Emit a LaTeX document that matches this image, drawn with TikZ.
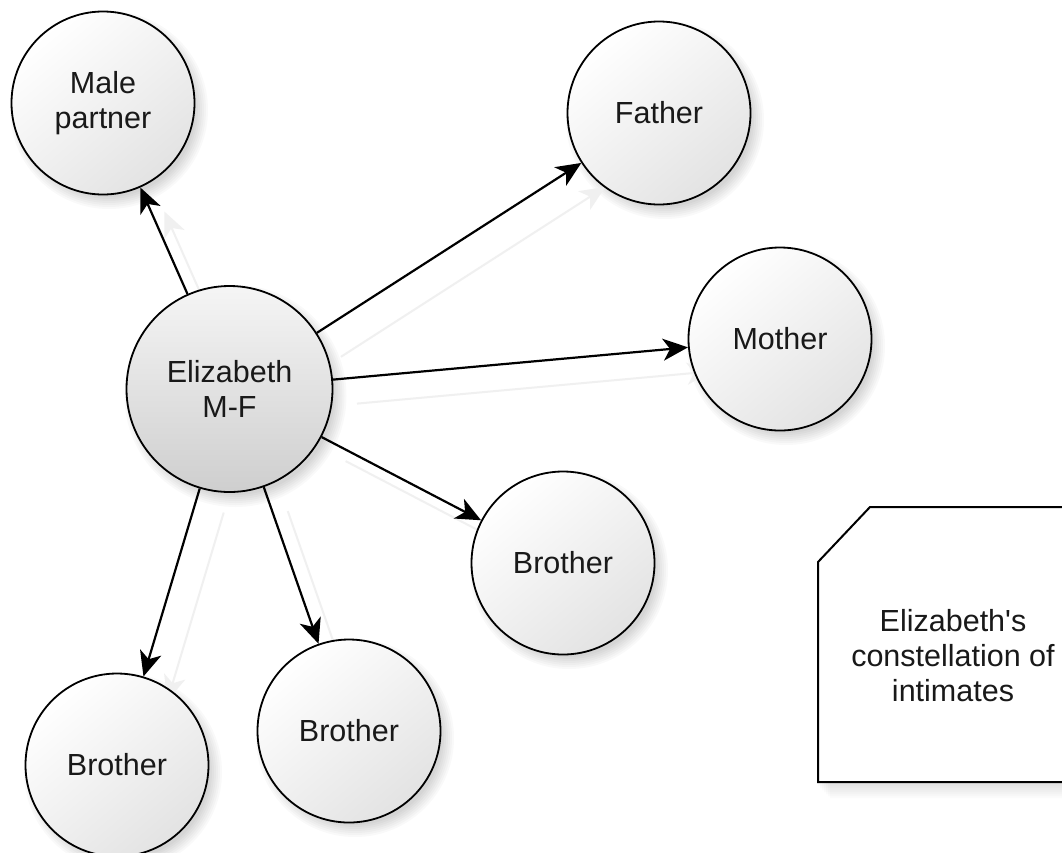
\documentclass[tikz,border=0pt]{standalone}
\usepackage{fontspec}
\setmainfont{Liberation Sans}
\usetikzlibrary{arrows.meta}
\pgfdeclarelayer{back}
\pgfdeclarelayer{bg}
\pgfsetlayers{back,bg,main}
\newcommand\circshadow[3]{%
  \foreach \k in {-4,-2,...,8} {\fill[black,opacity=0.022] (#1+6,#2+7) circle[radius=#3+\k];}}
\begin{document}
\begin{tikzpicture}[x=1pt,y=-1pt,
  person/.style={circle, draw=black, line width=1.8pt, minimum size=183pt, inner sep=0pt,
    align=center, font=\fontsize{30.5}{35}\selectfont, text=black!90,
    top color=white, bottom color=black!11, shading angle=40},
  self/.style={person, minimum size=206pt, top color=black!4, bottom color=black!19},
  edge/.style={line width=2.2pt, draw=black, -{Stealth[length=25pt,width=22pt,inset=7pt]}},
  shedge/.style={line width=2pt, draw=black!6, -{Stealth[length=25pt,width=22pt,inset=7pt]}},
  notetext/.style={align=center, font=\fontsize{30.5}{35}\selectfont, text=black!90}
]
\useasboundingbox (0,0) rectangle (1062,852);
\clip (0,0) rectangle (1062,852);
\begin{pgfonlayer}{back}
  \fill[white] (0,0) rectangle (1062,852);
\end{pgfonlayer}

% nodes
\node[person] (male) at (103,103) {Male\\partner};
\node[person] (father) at (659,113) {Father};
\node[person] (mother) at (780,339) {Mother};
\node[self] (eliz) at (229.5,389) {Elizabeth\\M-F};
\node[person] (bro1) at (563,563) {Brother};
\node[person] (bro2) at (349,731) {Brother};
\node[person] (bro3) at (117,765) {Brother};

% note
\begin{pgfonlayer}{bg}
  \foreach \k in {0,2,...,12} {\fill[black,opacity=0.015] (818+\k,562+\k+4) -- (870+\k,507+\k+4) -- (1100,507+\k+4) -- (1100,782+\k+4) -- (818+\k,782+\k+4) -- cycle;}
\end{pgfonlayer}
\draw[line width=2pt, fill=white] (818,562) -- (870,507) -- (1100,507) -- (1100,782) -- (818,782) -- cycle;
\node[notetext] (note) at (953,656) {Elizabeth\textquotesingle s\\constellation of\\intimates};

% shadows
\begin{pgfonlayer}{bg}
  \circshadow{103}{103}{91}
  \circshadow{659}{113}{91}
  \circshadow{780}{339}{91}
  \circshadow{229.5}{389}{103}
  \circshadow{563}{563}{91}
  \circshadow{349}{731}{91}
  \circshadow{117}{765}{91}
  \begin{scope}[transform canvas={xshift=24pt,yshift=-24pt}]
    \draw[shedge] (eliz) -- (male);
    \draw[shedge] (eliz) -- (father);
    \draw[shedge] (eliz) -- (mother);
    \draw[shedge] (eliz) -- (bro1);
    \draw[shedge] (eliz) -- (bro2);
    \draw[shedge] (eliz) -- (bro3);
  \end{scope}
\end{pgfonlayer}

% edges
\draw[edge] (eliz) -- (male);
\draw[edge] (eliz) -- (father);
\draw[edge] (eliz) -- (mother);
\draw[edge] (eliz) -- (bro1);
\draw[edge] (eliz) -- (bro2);
\draw[edge] (eliz) -- (bro3);
\end{tikzpicture}
\end{document}
